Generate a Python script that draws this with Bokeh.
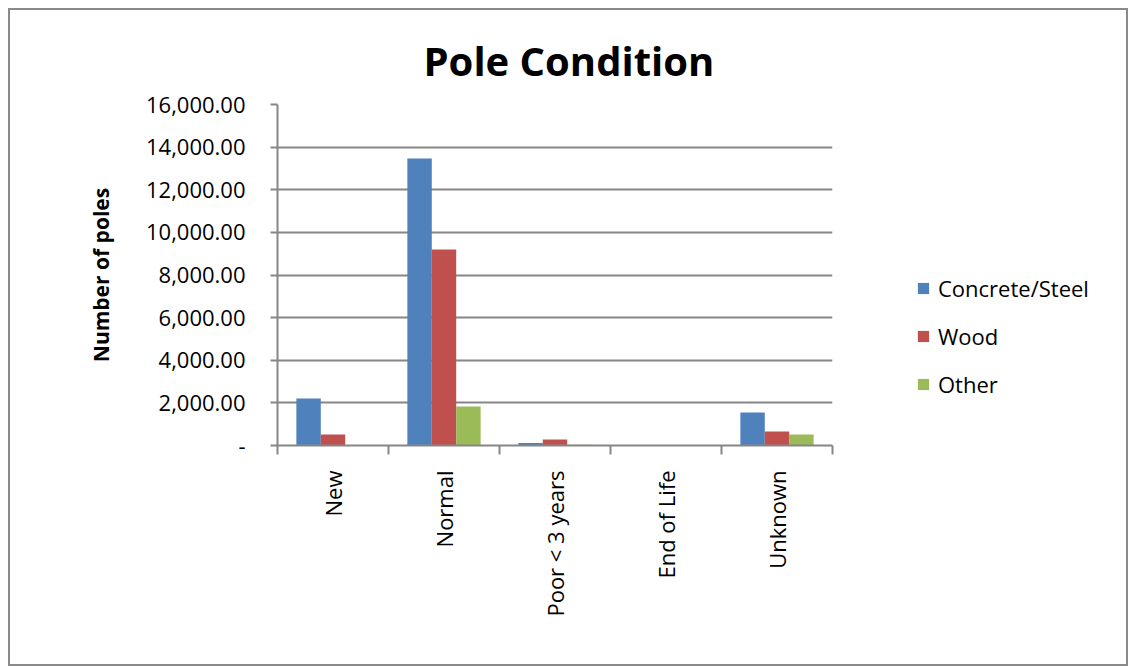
from bokeh.plotting import figure
from bokeh.layouts import row
from bokeh.models import (ColumnDataSource, FixedTicker, NumeralTickFormatter,
                          Legend, LegendItem, Range1d)
from bokeh.embed import file_html
from bokeh.resources import INLINE

categories = ["New", "Normal", "Poor < 3 years", "End of Life", "Unknown"]
series = ["Concrete/Steel", "Wood", "Other"]
concrete_steel = [2200, 13470, 120, 0, 1550]
wood = [520, 9200, 280, 0, 660]
other = [0, 1830, 40, 0, 520]
colors = ["#4F81BD", "#C0504D", "#9BBB59"]
y_ticks = [0, 2000, 4000, 6000, 8000, 10000, 12000, 14000, 16000]

FONT = "Open Sans"
GRID = "#868686"
H = 654

p = figure(width=862, height=H, output_backend="svg", toolbar_location=None,
           x_range=Range1d(0, len(categories)), y_range=Range1d(0, 16000),
           min_border_left=267, min_border_right=40, min_border_top=94,
           min_border_bottom=219)
p.outline_line_color = None
p.background_fill_color = "white"
p.border_fill_color = "white"

p.title.text = "Pole Condition"
p.title.text_font = FONT
p.title.text_font_size = "40px"
p.title.text_font_style = "bold"
p.title.text_color = "black"
p.title.align = "left"
p.title.offset = 146
p.title.standoff = 33

centers = [i + 0.5 for i in range(len(categories))]
offsets = [-0.22, 0.0, 0.22]
for vals, off, col in zip([concrete_steel, wood, other], offsets, colors):
    src = ColumnDataSource(dict(x=[c + off for c in centers], top=vals))
    p.vbar(x="x", top="top", width=0.22, bottom=0, source=src,
           fill_color=col, line_color=None)

# x axis
p.xaxis.ticker = FixedTicker(ticks=centers, minor_ticks=list(range(len(categories) + 1)))
p.xaxis.major_label_overrides = {c: lab for c, lab in zip(centers, categories)}
p.xaxis.major_tick_line_color = None
p.xaxis.minor_tick_line_color = GRID
p.xaxis.minor_tick_line_width = 2
p.xaxis.minor_tick_out = 9
p.xaxis.minor_tick_in = 0
p.xaxis.axis_line_color = GRID
p.xaxis.axis_line_width = 2
p.xaxis.major_label_orientation = 3.14159265 / 2
p.xaxis.major_label_text_font = FONT
p.xaxis.major_label_text_font_size = "22px"
p.xaxis.major_label_text_color = "black"
p.xaxis.major_label_standoff = 16

# y axis
p.yaxis.ticker = FixedTicker(ticks=y_ticks)
p.yaxis.formatter = NumeralTickFormatter(format="0,0.00")
p.yaxis.major_label_overrides = {0: "-"}
p.yaxis.major_tick_line_color = GRID
p.yaxis.major_tick_line_width = 2
p.yaxis.major_tick_out = 7
p.yaxis.major_tick_in = 0
p.yaxis.minor_tick_line_color = None
p.yaxis.axis_line_color = GRID
p.yaxis.axis_line_width = 2
p.yaxis.major_label_text_font = FONT
p.yaxis.major_label_text_font_size = "22px"
p.yaxis.major_label_text_color = "black"
p.yaxis.major_label_standoff = 25
p.yaxis.axis_label = "Number of poles"
p.yaxis.axis_label_text_font = FONT
p.yaxis.axis_label_text_font_size = "21px"
p.yaxis.axis_label_text_font_style = "bold"
p.yaxis.axis_label_text_color = "black"
p.yaxis.axis_label_standoff = 28

p.xgrid.grid_line_color = None
p.ygrid.grid_line_color = GRID
p.ygrid.grid_line_width = 2
p.ygrid.ticker = FixedTicker(ticks=y_ticks)

# legend panel (frame borders match the main plot so the row keeps them aligned)
lg = figure(width=254, height=H, output_backend="svg", toolbar_location=None,
            x_range=Range1d(0, 1), y_range=Range1d(0, 1),
            min_border_left=0, min_border_top=94, min_border_right=0,
            min_border_bottom=219)
lg.axis.visible = False
lg.grid.visible = False
lg.outline_line_color = None
lg.background_fill_color = "white"
lg.border_fill_color = "white"
items = []
for s, col in zip(series, colors):
    r = lg.vbar(x=[5], top=[1], width=0.1, fill_color=col, line_color=None)
    items.append(LegendItem(label=s, renderers=[r]))
legend = Legend(items=items, location=(44, 46), orientation="vertical",
                label_text_font=FONT, label_text_font_size="22px",
                label_text_color="black",
                glyph_width=14, glyph_height=14, spacing=18, label_standoff=8,
                padding=10, margin=0,
                border_line_color=None, background_fill_alpha=0)
lg.add_layout(legend, "center")

layout = row(p, lg, spacing=0)
layout.styles = {"border": "2px solid #8a8a8a", "margin": "8px"}

open("out.html", "w").write(file_html(layout, INLINE))
